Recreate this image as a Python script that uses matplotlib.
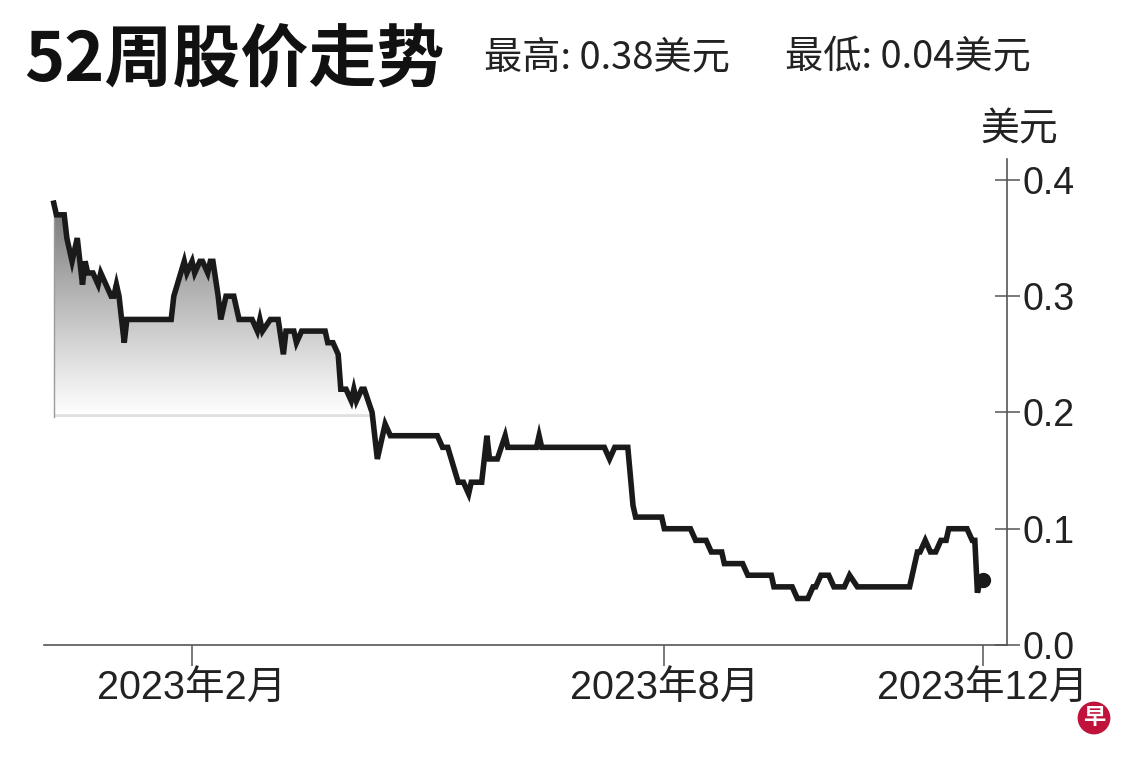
import matplotlib
matplotlib.use("Agg")
import matplotlib.pyplot as plt
import matplotlib.dates as mdates
import numpy as np
import pandas as pd
from matplotlib.patches import Polygon

plt.rcParams['font.family'] = ['Liberation Sans', 'Noto Sans CJK SC', 'DejaVu Sans']

# ---- data ----
dates = [
    "2022-12-10", "2022-12-11", "2022-12-14", "2022-12-15", "2022-12-17", "2022-12-19",
    "2022-12-21", "2022-12-22", "2022-12-23", "2022-12-25", "2022-12-27", "2022-12-28",
    "2023-01-01", "2023-01-02", "2023-01-03", "2023-01-04", "2023-01-06", "2023-01-07",
    "2023-01-24", "2023-01-25", "2023-01-29", "2023-01-30", "2023-02-01", "2023-02-02",
    "2023-02-04", "2023-02-05", "2023-02-07", "2023-02-08", "2023-02-09", "2023-02-11",
    "2023-02-12", "2023-02-14", "2023-02-17", "2023-02-19", "2023-02-24", "2023-02-26",
    "2023-02-27", "2023-02-28", "2023-03-03", "2023-03-06", "2023-03-08", "2023-03-09",
    "2023-03-12", "2023-03-13", "2023-03-15", "2023-03-24", "2023-03-25", "2023-03-27",
    "2023-03-29", "2023-03-30", "2023-04-01", "2023-04-03", "2023-04-04", "2023-04-05",
    "2023-04-07", "2023-04-08", "2023-04-11", "2023-04-13", "2023-04-16", "2023-04-18",
    "2023-05-06", "2023-05-08", "2023-05-10", "2023-05-14", "2023-05-16", "2023-05-18",
    "2023-05-19", "2023-05-23", "2023-05-25", "2023-05-26", "2023-05-29", "2023-06-01",
    "2023-06-02", "2023-06-13", "2023-06-14", "2023-06-15", "2023-07-09", "2023-07-11",
    "2023-07-13", "2023-07-18", "2023-07-20", "2023-07-21", "2023-07-31", "2023-08-01",
    "2023-08-11", "2023-08-13", "2023-08-17", "2023-08-19", "2023-08-23", "2023-08-24",
    "2023-08-31", "2023-09-02", "2023-09-11", "2023-09-12", "2023-09-19", "2023-09-21",
    "2023-09-25", "2023-09-27", "2023-09-28", "2023-09-30", "2023-10-03", "2023-10-05",
    "2023-10-09", "2023-10-11", "2023-10-14", "2023-11-03", "2023-11-06", "2023-11-07",
    "2023-11-09", "2023-11-11", "2023-11-13", "2023-11-15", "2023-11-17", "2023-11-18",
    "2023-11-25", "2023-11-27", "2023-11-28", "2023-11-29", "2023-11-30", "2023-12-01",
]
prices = [
    0.38, 0.37, 0.37, 0.35, 0.33, 0.35,
    0.31, 0.33, 0.32, 0.32, 0.31, 0.32,
    0.30, 0.30, 0.31, 0.30, 0.26, 0.28,
    0.28, 0.30, 0.33, 0.32, 0.33, 0.32,
    0.33, 0.33, 0.32, 0.33, 0.33, 0.30,
    0.28, 0.30, 0.30, 0.28, 0.28, 0.27,
    0.28, 0.27, 0.28, 0.28, 0.25, 0.27,
    0.27, 0.26, 0.27, 0.27, 0.26, 0.26,
    0.25, 0.22, 0.22, 0.21, 0.22, 0.21,
    0.22, 0.22, 0.20, 0.16, 0.19, 0.18,
    0.18, 0.17, 0.17, 0.14, 0.14, 0.13,
    0.14, 0.14, 0.18, 0.16, 0.16, 0.18,
    0.17, 0.17, 0.18, 0.17, 0.17, 0.16,
    0.17, 0.17, 0.12, 0.11, 0.11, 0.10,
    0.10, 0.09, 0.09, 0.08, 0.08, 0.07,
    0.07, 0.06, 0.06, 0.05, 0.05, 0.04,
    0.04, 0.05, 0.05, 0.06, 0.06, 0.05,
    0.05, 0.06, 0.05, 0.05, 0.08, 0.08,
    0.09, 0.08, 0.08, 0.09, 0.09, 0.10,
    0.10, 0.09, 0.09, 0.045, 0.055, 0.056,
]
xtick_dates = ["2023-02-01", "2023-08-01", "2023-12-01"]
xtick_labels = ["2023年2月", "2023年8月", "2023年12月"]
yticks = [0.0, 0.1, 0.2, 0.3, 0.4]
ytick_labels = ["0.0", "0.1", "0.2", "0.3", "0.4"]
title = "52周股价走势"
high_text = "最高: 0.38美元"
low_text = "最低: 0.04美元"
unit = "美元"

# ---- figure ----
W, H = 1140, 760
fig = plt.figure(figsize=(W / 100, H / 100), dpi=100)
fig.patch.set_facecolor("white")
ax = fig.add_axes([44 / W, 1 - 645 / H, (1007 - 44) / W, (645 - 159) / H])

x = mdates.date2num(pd.to_datetime(dates))
y = np.array(prices)

# gradient fill under the line (down to about 0.2)
base = 0.196
top = 0.38
grad_rows = 300
t = np.linspace(1, 0, grad_rows)  # top row first
gray = 1 - 0.54 * t ** 1.1
gray = gray.reshape(-1, 1)
img = np.dstack([gray, gray, gray]).astype(float)
img[-4:, :, :] = 0.88  # faint baseline
im = ax.imshow(img, extent=[x[0], x[-1], base, top], aspect='auto',
               interpolation='bilinear', zorder=1)
poly_xy = np.column_stack([np.r_[x[0], x, x[-1]], np.r_[base, y, base]])
clip = Polygon(poly_xy, closed=True, transform=ax.transData, fc='none', ec='none')
ax.add_patch(clip)
im.set_clip_path(clip)
ax.plot([x[0], x[0]], [base, y[0]], color="#9a9a9a", lw=1.0, zorder=2)

ax.plot(x, y, color="#1a1a1a", lw=4.0, solid_joinstyle='miter', zorder=3)
ax.plot([x[-1]], [y[-1]], 'o', color="#1a1a1a", ms=10, zorder=4)

ax.set_xlim(mdates.date2num(pd.Timestamp("2022-12-06 06:00")),
            mdates.date2num(pd.Timestamp("2023-12-10 08:00")))
ax.set_ylim(0, 0.418)

for s in ["top", "left"]:
    ax.spines[s].set_visible(False)
for s in ["bottom", "right"]:
    ax.spines[s].set_color("#555555")
    ax.spines[s].set_linewidth(1.2)

ax.yaxis.tick_right()
ax.set_yticks(yticks)
ax.set_yticklabels(ytick_labels)
ax.tick_params(axis='y', direction='inout', length=18, width=1.1, color="#555555",
               labelsize=27, pad=2, labelcolor="#222222")
ax.set_xticks(mdates.date2num(pd.to_datetime(xtick_dates)))
ax.set_xticklabels(xtick_labels)
ax.tick_params(axis='x', direction='out', length=15, width=1.1, color="#555555",
               labelsize=28.5, pad=2, labelcolor="#222222")
ax.set_facecolor("white")

# texts
fig.text(24 / W, 1 - 62 / H, title, fontsize=49, fontweight='bold',
         family=['Noto Sans CJK SC', 'DejaVu Sans'], va='center', ha='left', color="#111111")
fig.text(484 / W, 1 - 58 / H, high_text, fontsize=27.5,
         family=['Noto Sans CJK SC', 'DejaVu Sans'], va='center', ha='left', color="#222222")
fig.text(785 / W, 1 - 58 / H, low_text, fontsize=27.5,
         family=['Noto Sans CJK SC', 'DejaVu Sans'], va='center', ha='left', color="#222222")
fig.text(1019 / W, 1 - 129 / H, unit, fontsize=28,
         family=['Noto Sans CJK SC', 'DejaVu Sans'], va='center', ha='center', color="#222222")
fig.text(1094 / W, 1 - 718 / H, "早", fontsize=16, fontweight='bold', color='white',
         family=['Noto Sans CJK SC', 'DejaVu Sans'], va='center', ha='center',
         bbox=dict(boxstyle='circle,pad=0.22', fc='#c0123a', ec='none'))

fig.savefig("out.png", dpi=100, facecolor="white")
